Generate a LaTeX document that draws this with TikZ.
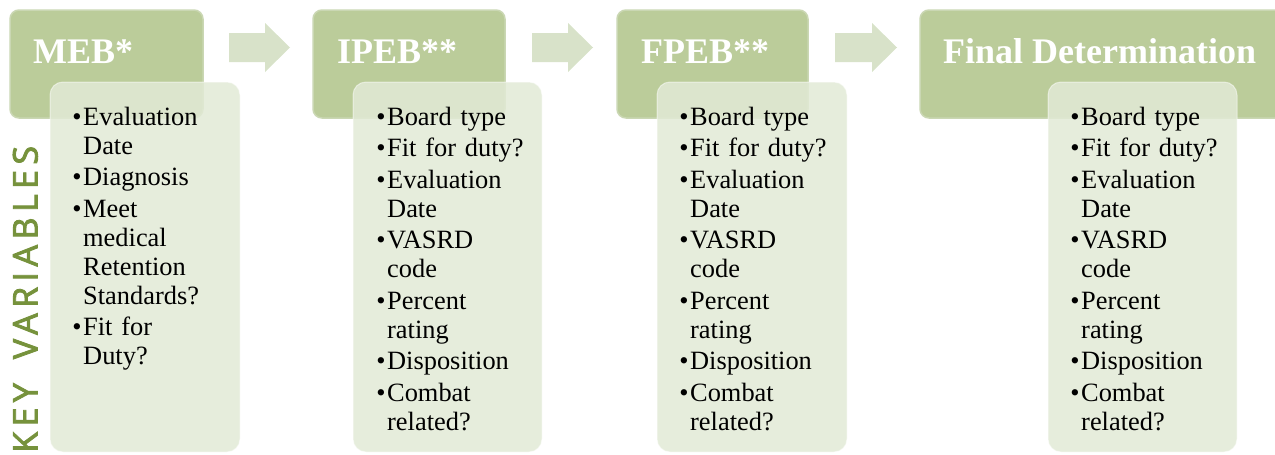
\documentclass[tikz,border=0pt]{standalone}
\usepackage{fontspec}
\setmainfont{Liberation Serif}
\newfontfamily\keyfont[LetterSpace=16,FakeBold=2.6]{Open Sans}
\definecolor{hdrfill}{HTML}{BBCC9A}
\definecolor{hdrline}{HTML}{CAD7B3}
\definecolor{bodyfill}{HTML}{E2EAD6}
\definecolor{arrowfill}{HTML}{D8E2C9}
\definecolor{keycol}{HTML}{76923C}
\newcommand\bi{\leavevmode\llap{\textbullet\hspace{1.5pt}}}
\begin{document}
\begin{tikzpicture}[x=1pt,y=-1pt,
  hdr/.style={draw=hdrline, line width=1.5pt, fill=hdrfill, rounded corners=9pt,
    minimum height=108pt, inner sep=0pt},
  bodybox/.style={draw=white, draw opacity=0.5, line width=1pt, fill=bodyfill,
    fill opacity=0.85, rounded corners=13pt, minimum height=370pt, inner sep=0pt},
  ttl/.style={text=white, font=\fontsize{36}{40}\selectfont\bfseries,
    anchor=base west, inner sep=0pt},
  lst/.style={font=\fontsize{26.4}{29}\selectfont, anchor=base west, inner sep=0pt,
    text width=165pt, align=left},
  arw/.style={fill=arrowfill},
  keytxt/.style={text=keycol, font=\keyfont\fontsize{34}{38}\selectfont,
    rotate=90, anchor=base west, inner sep=0pt}]
\useasboundingbox (0,0) rectangle (1275,455);
\clip (0,0) rectangle (1275,455);

% headers
\node[hdr, minimum width=193pt] (meb) at (106.5,64) {};
\node[hdr, minimum width=192pt] (ipeb) at (409,64) {};
\node[hdr, minimum width=191pt] (fpeb) at (712.5,64) {};
\node[hdr, minimum width=370pt] (fin) at (1105,64) {};

\node[ttl] (tmeb) at (33,63) {MEB*};
\node[ttl] (tipeb) at (337,63) {IPEB**};
\node[ttl] (tfpeb) at (641,63) {FPEB**};
\node[ttl] (tfin) at (943,63) {Final Determination};

% block arrows
\coordinate (a1) at (229,47.5);
\coordinate (a2) at (532,47.5);
\coordinate (a3) at (835,47.5);
\foreach \a/\L in {a1/36, a2/36, a3/37}{
  \fill[arw] (\a) ++(0,-14.5) -- ++(\L,0) -- ++(0,-10) -- ++(25,24.5)
    -- ++(-25,24.5) -- ++(0,-10) -- ++(-\L,0) -- cycle;
}

% bodies
\node[bodybox, minimum width=190pt] (bmeb) at (145,267) {};
\node[bodybox, minimum width=189pt] (bipeb) at (447.5,267) {};
\node[bodybox, minimum width=190pt] (bfpeb) at (752,267) {};
\node[bodybox, minimum width=189pt] (bfin) at (1142.5,267) {};

\node[lst] (lmeb) at (83,125) {\bi Evaluation\\Date\\[2.5pt]\bi Diagnosis\\[2.5pt]\bi Meet\\medical\\Retention\\Standards?\\[2.5pt]\bi Fit for\\Duty?};
\node[lst] (lipeb) at (387,125) {\bi Board type\\[2.5pt]\bi Fit for duty?\\[2.5pt]\bi Evaluation\\Date\\[2.5pt]\bi VASRD\\code\\[2.5pt]\bi Percent\\rating\\[2.5pt]\bi Disposition\\[2.5pt]\bi Combat\\related?};
\node[lst] (lfpeb) at (690,125) {\bi Board type\\[2.5pt]\bi Fit for duty?\\[2.5pt]\bi Evaluation\\Date\\[2.5pt]\bi VASRD\\code\\[2.5pt]\bi Percent\\rating\\[2.5pt]\bi Disposition\\[2.5pt]\bi Combat\\related?};
\node[lst] (lfin) at (1081,125) {\bi Board type\\[2.5pt]\bi Fit for duty?\\[2.5pt]\bi Evaluation\\Date\\[2.5pt]\bi VASRD\\code\\[2.5pt]\bi Percent\\rating\\[2.5pt]\bi Disposition\\[2.5pt]\bi Combat\\related?};

% side label
\node[keytxt] (key) at (37.5,453) {KEY\hspace{24pt}VARIABLES};
\end{tikzpicture}
\end{document}
